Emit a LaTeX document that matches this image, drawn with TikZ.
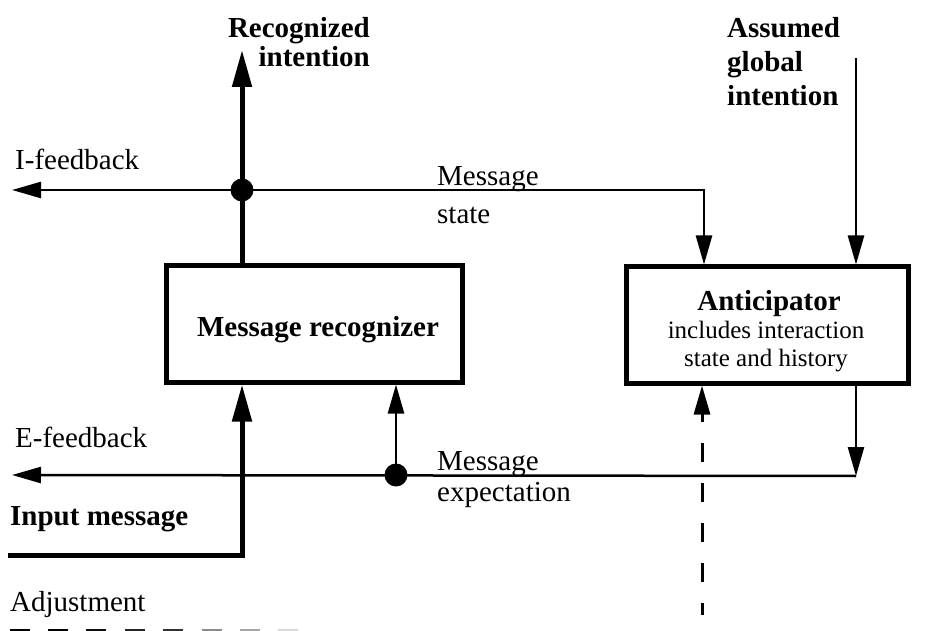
\documentclass[tikz,border=0pt]{standalone}
\usepackage{fontspec}
\setmainfont{Liberation Serif}
\usetikzlibrary{arrows.meta}

\begin{document}
\begin{tikzpicture}[x=1pt,y=-1pt,
  lbl/.style={font=\fontsize{29}{32}\selectfont, inner sep=0pt},
  blbl/.style={font=\fontsize{29}{32}\selectfont\bfseries, inner sep=0pt},
  sublbl/.style={font=\fontsize{25}{28}\selectfont, inner sep=0pt},
  boxnode/.style={draw, line width=5pt, inner sep=0pt},
  dot/.style={circle, fill, inner sep=0pt, minimum size=23pt},
  thinline/.style={line width=2.5pt},
  thickline/.style={line width=5pt},
  tip/.style={-{Triangle[length=29pt,width=16pt]}},
  bigtip/.style={-{Triangle[length=37pt,width=19pt]}},
  adjline/.style={line width=3pt, dash pattern=on 19pt off 21pt, dash phase=7pt},
]
\useasboundingbox (0,0) rectangle (927,631);

% boxes
\node[boxnode, minimum width=296pt, minimum height=116pt] (rec) at (314,324) {};
\node[boxnode, minimum width=282pt, minimum height=116pt] (ant) at (767,325) {};

% box texts
\node[blbl, anchor=base] (rectxt) at (318,336) {Message recognizer};
\node[blbl, anchor=base] (anttxt) at (769,310) {Anticipator};
\node[sublbl, anchor=base] (antsub1) at (766,338) {includes interaction};
\node[sublbl, anchor=base] (antsub2) at (766,366) {state and history};

% junction dots
\node[dot] (d1) at (242,190) {};
\node[dot] (d2) at (396,475) {};

% free ends
\coordinate (rtip) at (242,50);
\coordinate (ifb) at (12,190);
\coordinate (ms) at (704,190);
\coordinate (ag) at (856,58);
\coordinate (ej) at (856,476);
\coordinate (efb) at (12,475);
\coordinate (inp) at (8,555);
\coordinate (inc) at (242,555);
\coordinate (adj) at (702,615);

% outer labels
\node[blbl, anchor=base east] (ri1) at (370,38) {Recognized};
\node[blbl, anchor=base east] (ri2) at (370,67) {intention};
\node[blbl, anchor=base west] (ag1) at (727,38) {Assumed};
\node[blbl, anchor=base west] (ag2) at (727,72) {global};
\node[blbl, anchor=base west] (ag3) at (727,106) {intention};
\node[lbl, anchor=base west] (ifbl) at (15,170) {I-feedback};
\node[lbl, anchor=base west] (ms1) at (437,186) {Message};
\node[lbl, anchor=base west] (ms2) at (437,224) {state};
\node[lbl, anchor=base west] (efbl) at (15,447) {E-feedback};
\node[lbl, anchor=base west] (me1) at (437,470) {Message};
\node[lbl, anchor=base west] (me2) at (437,501) {expectation};
\node[blbl, anchor=base west] (inl) at (10,525) {Input message};
\node[lbl, anchor=base west] (adjl) at (10,611) {Adjustment};

% recognized intention
\draw[thickline, bigtip] (rec.north -| d1) -- (rtip);
% feedback and state lines
\draw[thinline, tip] (d1.center) -- (ifb);
\draw[thinline, tip] (d1.center) -- (ms) -- (ant.north -| ms);
\draw[thinline, tip] (ag) -- (ant.north -| ag);
\draw[thinline, tip] (ant.south -| ej) -- (ej);
\draw[thinline, tip] (ej) -- (efb);
\draw[thinline, tip] (d2.center) -- (rec.south -| d2);
% input message
\draw[thickline, bigtip] (inp) -- (inc) -- (rec.south -| inc);
% adjustment into the anticipator
\draw[adjline, tip] (adj) -- (ant.south -| adj);
% adjustment line along the bottom, fading out
\foreach \x/\g in {10/100, 48/100, 86/95, 125/85, 163/80, 202/45, 240/35, 278/15}
  \draw[line width=3pt, black!\g] (\x,630) -- ++(20,0);
\end{tikzpicture}
\end{document}
